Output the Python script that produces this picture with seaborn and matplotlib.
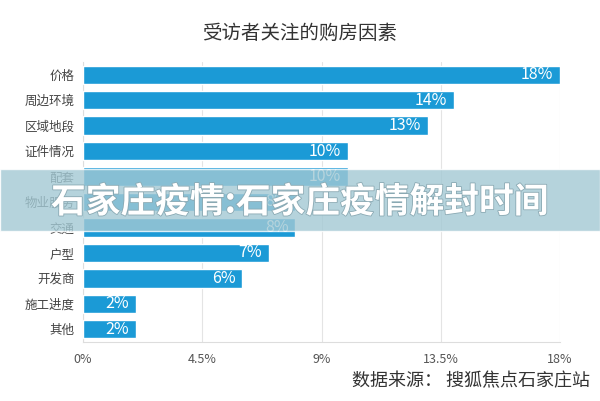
import numpy as np
import pandas as pd
import seaborn as sns
import matplotlib.pyplot as plt
import matplotlib.patheffects as pe
from matplotlib.patches import Rectangle

# 数据
factors = ["价格", "周边环境", "区域地段", "证件情况", "配套", "物业服务",
           "交通", "户型", "开发商", "施工进度", "其他"]
shares = [18, 14, 13, 10, 10, 8, 8, 7, 6, 2, 2]
xticks = [0, 4.5, 9, 13.5, 18]
xtick_labels = ["0%", "4.5%", "9%", "13.5%", "18%"]

sns.set_style("white")
plt.rcParams['font.family'] = ['Noto Sans CJK SC', 'DejaVu Sans']

df = pd.DataFrame({"factor": factors, "share": shares})

fig = plt.figure(figsize=(6, 4.01), dpi=100)
ax = fig.add_axes([83/600, 1 - 342/401, (560 - 83)/600, (342 - 62)/401])

sns.barplot(data=df, x="share", y="factor", orient="h", color="#1b9ad6",
            width=0.72, saturation=1, ax=ax, zorder=3)

for i, v in enumerate(shares):
    ax.text(v - 0.25, i, f"{v}%", ha="right", va="center", color="white",
            fontsize=11.5, zorder=4)

ax.set_xlim(0, 18)
ax.set_ylim(10.5, -0.5)
ax.set_xticks(xticks)
ax.set_xticklabels(xtick_labels, color="#555555", fontsize=9)
ax.tick_params(axis="y", labelsize=9, labelcolor="#444444", length=0, pad=6)
ax.tick_params(axis="x", length=0, pad=8)
ax.set_xlabel("")
ax.set_ylabel("")
ax.grid(axis="x", color="#e4e4e4", linewidth=0.8, zorder=0)
for s in ["top", "right"]:
    ax.spines[s].set_visible(False)
for s in ["left", "bottom"]:
    ax.spines[s].set_color("#dddddd")
    ax.spines[s].set_linewidth(0.8)

fig.text(0.5, 1 - 33/401, "受访者关注的购房因素", ha="center", va="center",
         fontsize=14, color="#333333")
fig.text(590/600, 1 - 381/401, "数据来源： 搜狐焦点石家庄站", ha="right", va="center",
         fontsize=13, color="#333333")

# overlay banner
fig.patches.append(Rectangle((0, 1 - 231/401), 1, 62/401, transform=fig.transFigure,
                             facecolor="#a3c9d4", alpha=0.8, zorder=10))
fig.text(0.5, 1 - 202/401, "石家庄疫情:石家庄疫情解封时间", ha="center", va="center",
         fontsize=25, color="white", fontweight=900, zorder=11,
         path_effects=[pe.withStroke(linewidth=1.2, foreground="#8aa9b3")])

fig.savefig("out.png", dpi=100)
